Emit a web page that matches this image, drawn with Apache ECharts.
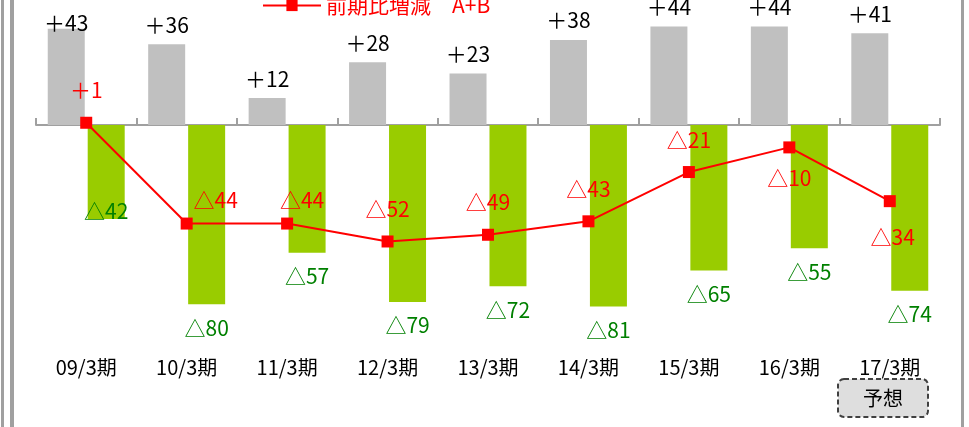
<!DOCTYPE html>
<html>
<head>
<meta charset="utf-8">
<script src="https://cdn.jsdelivr.net/npm/echarts@6/dist/echarts.min.js"></script>
<style>
  html, body { margin: 0; padding: 0; background: #fff; }
  #chart { width: 969px; height: 427px; }
</style>
</head>
<body>
<div id="chart"></div>
<script>
const categories = ['09/3期', '10/3期', '11/3期', '12/3期', '13/3期', '14/3期', '15/3期', '16/3期', '17/3期']
const valuesA = [43, 36, 12, 28, 23, 38, 44, 44, 41]
const valuesB = [-42, -80, -57, -79, -72, -81, -65, -55, -74]
const valuesAB = [1, -44, -44, -52, -49, -43, -21, -10, -34]
const lineName = '前期比増減　A+B'

const font = '"Noto Sans CJK JP", "Noto Sans", sans-serif'

function sign(v) {
  return v > 0 ? '＋' + v : '△' + Math.abs(v)
}

// a few labels were nudged by hand in the original
const dataA = valuesA.map((v, i) => i === 0 ? { value: v, label: { offset: [0, 14] } } : v)
const dataB = valuesB.map((v, i) => i === 0 ? { value: v, label: { offset: [0, -32] } } : v)
const dataAB = valuesAB.map((v, i) => {
  if (i === 1) return { value: v, label: { offset: [29, 9] } }
  if (i === 2) return { value: v, label: { offset: [15, 9] } }
  if (i === 7) return { value: v, label: { position: 'bottom', distance: 14 } }
  if (i === 8) return { value: v, label: { position: 'bottom', distance: 14, offset: [3, 5] } }
  return v
})

const chart = echarts.init(document.getElementById('chart'))
chart.setOption({
  animation: false,
  textStyle: { fontFamily: font },
  legend: {
    data: [lineName],
    left: 257,
    top: -10,
    itemWidth: 58,
    itemHeight: 14,
    itemGap: 10,
    textStyle: { color: '#ff0000', fontSize: 21, fontFamily: font },
  },
  grid: { left: 36, right: 29, top: 13, height: 336 },
  xAxis: [
    {
      type: 'category',
      data: categories,
      position: 'bottom',
      axisLine: { show: false, onZero: false },
      axisTick: { show: false },
      axisLabel: { color: '#000', fontSize: 20, margin: 8, fontFamily: font },
    },
    {
      type: 'category',
      data: categories,
      position: 'bottom',
      axisLine: { show: true, onZero: true, lineStyle: { color: '#a0a0a0', width: 2 } },
      axisTick: { show: true, inside: true, length: 7, lineStyle: { color: '#a0a0a0', width: 2 } },
      axisLabel: { show: false },
    },
  ],
  yAxis: {
    type: 'value',
    min: -100,
    max: 50,
    show: false,
    splitLine: { show: false },
  },
  series: [
    {
      name: 'A',
      type: 'bar',
      data: dataA,
      barWidth: 37,
      barGap: '8%',
      itemStyle: { color: '#c0c0c0' },
      label: {
        show: true,
        position: 'top',
        distance: 9,
        color: '#000',
        fontSize: 21,
        formatter: (p) => sign(p.value),
      },
    },
    {
      name: 'B',
      type: 'bar',
      data: dataB,
      barWidth: 37,
      itemStyle: { color: '#99cc00' },
      label: {
        show: true,
        position: 'bottom',
        distance: 13,
        color: '#008000',
        fontSize: 21,
        formatter: (p) => sign(p.value),
      },
    },
    {
      name: lineName,
      type: 'line',
      data: dataAB,
      z: 5,
      symbol: 'rect',
      symbolSize: 12,
      lineStyle: { color: '#ff0000', width: 2 },
      itemStyle: { color: '#ff0000' },
      label: {
        show: true,
        position: 'top',
        distance: 16,
        color: '#ff0000',
        fontSize: 21,
        formatter: (p) => sign(p.value),
      },
    },
  ],
  graphic: [
    { type: 'rect', shape: { x: 1, y: 0, width: 3, height: 427 }, style: { fill: '#a0a0a0' } },
    { type: 'rect', shape: { x: 10, y: 0, width: 4, height: 427 }, style: { fill: '#a0a0a0' } },
    { type: 'rect', shape: { x: 961, y: 0, width: 3, height: 427 }, style: { fill: '#a0a0a0' } },
    {
      type: 'group',
      left: 837,
      top: 378,
      children: [
        {
          type: 'rect',
          shape: { x: 0, y: 0, width: 90, height: 38, r: 6 },
          style: { fill: '#dedede', stroke: '#404040', lineWidth: 2, lineDash: [5, 3] },
        },
        {
          type: 'text',
          x: 45,
          y: 19,
          style: {
            text: '予想',
            fill: '#000',
            font: '20px ' + font,
            align: 'center',
            verticalAlign: 'middle',
          },
        },
      ],
    },
  ],
})
</script>
</body>
</html>
